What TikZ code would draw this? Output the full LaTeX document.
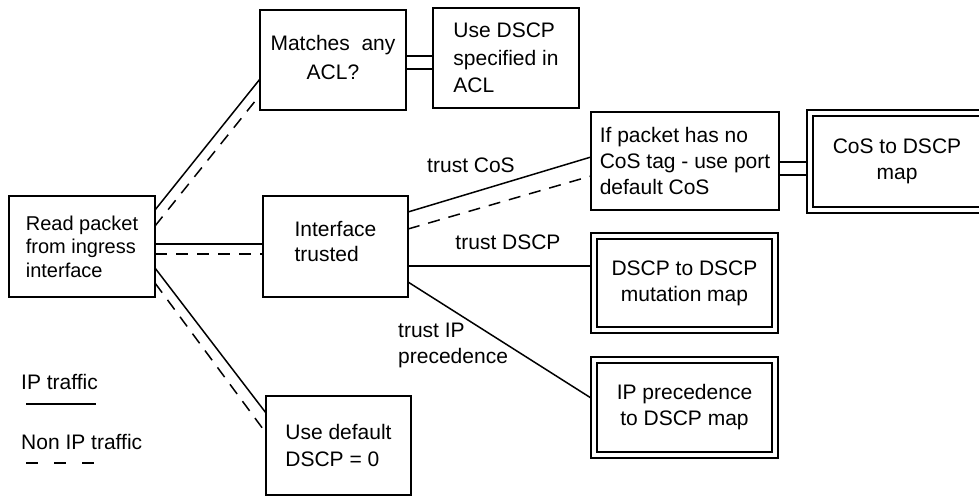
\documentclass[tikz,border=0pt]{standalone}
\usepackage{fontspec}
\setmainfont{Liberation Sans}
\usetikzlibrary{calc}

\begin{document}
\begin{tikzpicture}[x=1pt,y=-1pt,
  every node/.style={font=\fontsize{21}{26}\selectfont},
  box/.style={draw, line width=1.5pt, inner sep=0pt, outer sep=0pt, align=left},
  dbox/.style={draw, line width=1.5pt, double, double distance=4.5pt,
               inner sep=0pt, outer sep=3pt, align=center},
  lbl/.style={inner sep=0pt},
  ip/.style={line width=1.5pt},
  nonip/.style={line width=1.5pt, dash pattern=on 12pt off 9pt},
  legdash/.style={line width=1.5pt, dash pattern=on 12pt off 16pt}]

\useasboundingbox (0,0) rectangle (979,496);
\clip (0,0) rectangle (979,496);

% processing steps
\node[box, minimum width=146pt, minimum height=101pt,
      font=\fontsize{20}{23.5}\selectfont] (read) at (82,246.5)
  {Read packet\\from ingress\\interface};
\node[box, minimum width=146pt, minimum height=100pt, align=center,
      text depth=6pt, font=\fontsize{21}{29}\selectfont] (acl) at (333,60)
  {Matches\ \ any\\ACL?};
\node[box, minimum width=146pt, minimum height=100pt,
      font=\fontsize{21}{27.5}\selectfont] (usedscp) at (506,58)
  {Use DSCP\\specified in\\ACL};
\node[box, minimum width=145pt, minimum height=101pt, text depth=10pt,
      font=\fontsize{21}{25}\selectfont] (iface) at (335.5,246.5)
  {Interface\\trusted};
\node[box, minimum width=188pt, minimum height=98pt] (ifpkt) at (685,161)
  {If packet has no\\CoS tag - use port\\default CoS};
\node[box, minimum width=145pt, minimum height=99pt,
      font=\fontsize{21}{27}\selectfont] (dflt) at (338.5,445.5)
  {Use default\\DSCP = 0};

% mapping tables
\node[dbox, minimum width=174pt, minimum height=97pt] (cosmap) at (897,161.5)
  {CoS to DSCP\\map};
\node[dbox, minimum width=181pt, minimum height=94pt] (mut) at (684.5,283)
  {DSCP to DSCP\\mutation map};
\node[dbox, minimum width=181pt, minimum height=95pt] (ipp) at (684.5,407.5)
  {IP precedence\\to DSCP map};

% IP traffic (solid) and non-IP traffic (dashed) paths
\draw[ip]    ([yshift=-14pt]read.north east) -- ([yshift=-69pt]acl.north west);
\draw[nonip] ([yshift=-30pt]read.north east) -- ([yshift=-85pt]acl.north west);
\draw[ip]    ([yshift=-48pt]read.north east) -- ([yshift=-48pt]iface.north west);
\draw[nonip] ([yshift=-58pt]read.north east) -- ([yshift=-58pt]iface.north west);
\draw[ip]    ([yshift=-72pt]read.north east) -- ([yshift=-17pt]dflt.north west);
\draw[nonip] ([yshift=-87pt]read.north east) -- ([yshift=-37pt]dflt.north west);

\draw[ip]    ([yshift=-46pt]acl.north east) -- ([yshift=-48pt]usedscp.north west);
\draw[ip]    ([yshift=-59pt]acl.north east) -- ([yshift=-61pt]usedscp.north west);
\draw[nonip, line width=2.2pt] ([yshift=-59pt]acl.north east) -- ([yshift=-61pt]usedscp.north west);

\draw[ip]    ([yshift=-16pt]iface.north east) -- ([yshift=-45pt]ifpkt.north west);
\draw[nonip] ([yshift=-33pt]iface.north east) -- ([yshift=-64pt]ifpkt.north west);
\draw[ip]    ([yshift=-70pt]iface.north east) -- ([yshift=-33pt]mut.north west);
\draw[ip]    ([yshift=-86pt]iface.north east) -- ([yshift=-41pt]ipp.north west);

\draw[ip]    ([yshift=-50pt]ifpkt.north east) -- ([yshift=-52pt]cosmap.north west);
\draw[ip]    ([yshift=-63pt]ifpkt.north east) -- ([yshift=-65pt]cosmap.north west);
\draw[nonip, line width=2.2pt] ([yshift=-63pt]ifpkt.north east) -- ([yshift=-65pt]cosmap.north west);

% branch labels
\node[lbl] (tcos) at (471,165) {trust CoS};
\node[lbl] (tdscp) at (508,242) {trust DSCP};
\node[lbl, anchor=west, align=left] (tipp) at (398,345) {trust IP\\precedence};

% legend
\node[lbl, anchor=west] (legip) at (21,382) {IP traffic};
\coordinate (legipA) at (26,404);
\coordinate (legipB) at (96,404);
\draw[ip] (legipA) -- (legipB);
\node[lbl, anchor=west] (legnon) at (21,442) {Non IP traffic};
\coordinate (legnonA) at (26,463);
\coordinate (legnonB) at (96,463);
\draw[legdash] (legnonA) -- (legnonB);
\end{tikzpicture}
\end{document}
